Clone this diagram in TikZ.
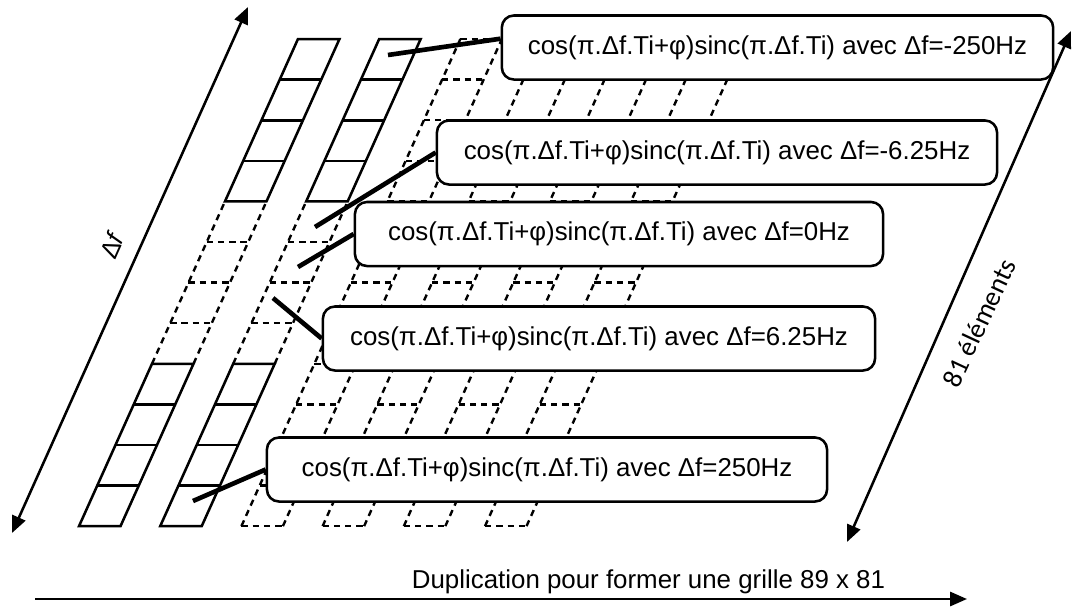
\documentclass[tikz,border=0pt]{standalone}
\usepackage{fontspec}
\setmainfont{Liberation Sans}
\newfontfamily\labelfont{Carlito}
\usepackage{tikz}
\usetikzlibrary{arrows.meta}
\tikzstyle{cellsolid} = [line width=1.8pt]
\tikzstyle{celldash} = [line width=1.7pt, dash pattern=on 4.5pt off 3.5pt]
\tikzstyle{formula} = [rectangle, rounded corners=0.3cm, minimum height=1.6cm, inner sep=0pt, text centered, draw=black, line width=1.8pt, fill=white, font=\fontsize{18.4}{22}\selectfont]
\tikzstyle{link} = [line width=3.3pt]
\tikzstyle{dimarrow} = [line width=1.8pt, >={Triangle[length=12pt,width=10pt]}]

\begin{document}
\begin{tikzpicture}[x=0.025cm, y=-0.025cm]
            \useasboundingbox (0,0) rectangle (1073,608);

            % Grid of cells (slanted columns)
            \begin{scope}[shift={(1.975cm,-13.15cm)}, x={(0.025cm,0cm)}, y={(0.456cm,1.0145cm)}]
                \foreach \c in {0,1} {
                    \draw [cellsolid] (\c*81.2,0) -- ++(41.5,0) -- ++(0,4) -- ++(-41.5,0) -- cycle;
                    \draw [cellsolid] (\c*81.2,8) -- ++(41.5,0) -- ++(0,4) -- ++(-41.5,0) -- cycle;
                    \foreach \r in {1,2,3,9,10,11}
                        \draw [cellsolid] (\c*81.2,\r) -- ++(41.5,0);
                    \foreach \r in {5,6,7}
                        \draw [celldash] (\c*81.2,\r) -- ++(41.5,0);
                    \draw [celldash] (\c*81.2,4) -- ++(0,4) (\c*81.2+41.5,4) -- ++(0,4);
                }
                \foreach \c in {2,...,5} {
                    \draw [celldash] (\c*81.2,0) -- ++(0,12) (\c*81.2+41.5,0) -- ++(0,12);
                    \foreach \r in {0,...,12}
                        \draw [celldash] (\c*81.2,\r) -- ++(41.5,0);
                }
            \end{scope}

            % Nodes
            \node (b1) [formula, minimum width=13.78cm] at (777.5,47.5) {cos(π.Δf.Ti+φ)sinc(π.Δf.Ti) avec Δf=-250Hz};
            \node (b2) [formula, minimum width=14cm] at (717,152.5) {cos(π.Δf.Ti+φ)sinc(π.Δf.Ti) avec Δf=-6.25Hz};
            \node (b3) [formula, minimum width=13.2cm] at (619,234) {cos(π.Δf.Ti+φ)sinc(π.Δf.Ti) avec Δf=0Hz};
            \node (b4) [formula, minimum width=13.8cm] at (599,338.5) {cos(π.Δf.Ti+φ)sinc(π.Δf.Ti) avec Δf=6.25Hz};
            \node (b5) [formula, minimum width=14cm] at (547,469.5) {cos(π.Δf.Ti+φ)sinc(π.Δf.Ti) avec Δf=250Hz};

            % Cells pointed at
            \coordinate (cell1) at (388,55);
            \coordinate (cell2) at (315,227);
            \coordinate (cell3) at (298,267);
            \coordinate (cell4) at (273,298);
            \coordinate (cell5) at (193,501);

            % Links
            \draw [link] ([yshift=0.22cm]b1.west) -- (cell1);
            \draw [link] (b2.west) -- (cell2);
            \draw [link] (b3.west) -- (cell3);
            \draw [link] (b4.west) -- (cell4);
            \draw [link] (b5.west) -- (cell5);

            % Arrows
            \coordinate (df-low) at (12,533);
            \coordinate (df-high) at (248,7);
            \coordinate (el-low) at (847,542);
            \coordinate (el-high) at (1071,31);
            \coordinate (dup-start) at (35,599);
            \coordinate (dup-end) at (967,599);
            \draw [dimarrow, <->] (df-low) -- (df-high);
            \draw [dimarrow, <->] (el-low) -- (el-high);
            \draw [dimarrow, ->] (dup-start) -- (dup-end);

            % Labels
            \node (df-label) [rotate=66, font=\fontsize{18}{20}\selectfont] at (112,245) {Δ\textit{f}};
            \node (el-label) [rotate=65, font=\labelfont\upshape\fontsize{19.5}{22}\selectfont] at (979,323) {81 éléments};
            \node (dup-label) [anchor=base, font=\fontsize{18.4}{22}\selectfont] at (648.5,588) {Duplication pour former une grille 89 x 81};
        \end{tikzpicture}
\end{document}
